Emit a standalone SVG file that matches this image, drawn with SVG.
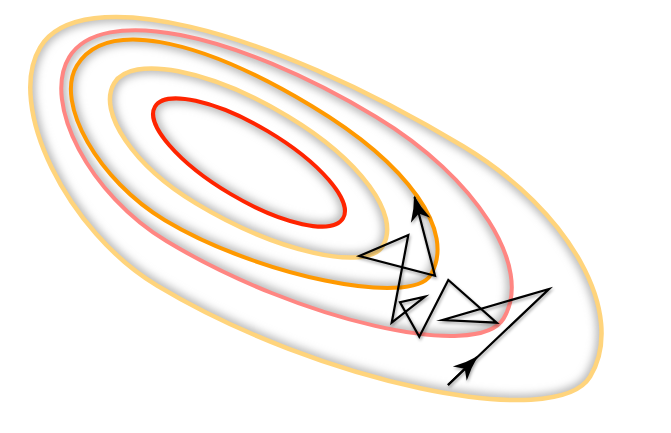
<svg xmlns="http://www.w3.org/2000/svg" xmlns:xlink="http://www.w3.org/1999/xlink" width="671" height="433" viewBox="0 0 671 433">
<style>
.sh{fill:none;stroke:#b4b4b4;stroke-width:10;filter:url(#blur)}
.c{fill:none}
.y{stroke:#FFD47C;stroke-width:4.5}
.p{stroke:#FF8682;stroke-width:4}
.o{stroke:#FF9900;stroke-width:4}
.r{stroke:#FF2400;stroke-width:4}
.trail{fill:none;stroke:#000;stroke-width:2.2;stroke-linejoin:miter;stroke-miterlimit:10}
</style>
<defs>
<filter id="blur" x="-20%" y="-20%" width="140%" height="140%"><feGaussianBlur stdDeviation="4.5"/></filter>
<filter id="ds" x="-10%" y="-10%" width="120%" height="120%"><feDropShadow dx="1" dy="2" stdDeviation="1.5" flood-color="#000" flood-opacity="0.35"/></filter>
<path id="eY1" transform="translate(315.9 210.7) rotate(31)" d="M-320.5,2 C-320.5,-73.8 -142.9,-131 92.5,-131 C217.9,-131 320.5,-71.6 320.5,1 C320.5,66.3 90.6,146 -97.5,146 C-202.3,146 -320.5,69.7 -320.5,2 Z"/>
<path id="eP" transform="translate(286.4 187.8) rotate(31)" d="M-253.5,0 C-253.5,-61 -127.3,-107 40,-107 C157.4,-107 253.5,-58.9 253.5,0 C253.5,50.5 79.4,107.5 -75,107.5 C-164.3,107.5 -253.5,53.8 -253.5,0 Z"/>
<path id="eO" transform="translate(252.5 171.4) rotate(31)" d="M-205,0 C-205,-53.6 -120.6,-86.5 17,-86.5 C130.4,-86.5 206,-53.1 206,-3 C206,34.8 57.5,87 -50,87 C-127.5,87 -205,43.5 -205,0 Z"/>
<path id="eY2" transform="translate(248.8 164) rotate(31)" d="M-157,0 C-157,-33.6 -82.3,-61 9,-61 C93.4,-61 157,-34.3 157,1 C157,32.2 69.6,61 -25,61 C-97.6,61 -157,33.6 -157,0 Z"/>
<ellipse id="eR" cx="249" cy="162.5" rx="109.4" ry="36.5" transform="rotate(30.7 249 162.5)"/>
<clipPath id="cY1"><use xlink:href="#eY1"/></clipPath>
<clipPath id="cP"><use xlink:href="#eP"/></clipPath>
<clipPath id="cO"><use xlink:href="#eO"/></clipPath>
<clipPath id="cY2"><use xlink:href="#eY2"/></clipPath>
<clipPath id="cR"><use xlink:href="#eR"/></clipPath>
<marker id="ah" markerUnits="userSpaceOnUse" viewBox="-26 -12 28 24" refX="0" refY="0" markerWidth="28" markerHeight="24" orient="auto">
<path d="M1.5,0 Q-12,-3.5 -24,-10 L-17,0 L-24,10 Q-12,3.5 1.5,0 Z" fill="#000"/>
</marker>
</defs>
<rect width="671" height="433" fill="#fff"/>
<g id="contour-outer">
<g clip-path="url(#cY1)"><use xlink:href="#eY1" class="sh"/></g>
<use xlink:href="#eY1" class="c y"/>
</g>
<g id="contour-pink">
<g clip-path="url(#cP)"><use xlink:href="#eP" class="sh"/></g>
<use xlink:href="#eP" class="c p"/>
</g>
<g id="contour-orange">
<g clip-path="url(#cO)"><use xlink:href="#eO" class="sh"/></g>
<use xlink:href="#eO" class="c o"/>
</g>
<g id="contour-inner">
<g clip-path="url(#cY2)"><use xlink:href="#eY2" class="sh"/></g>
<use xlink:href="#eY2" class="c y"/>
</g>
<g id="contour-center">
<g clip-path="url(#cR)"><use xlink:href="#eR" class="sh"/></g>
<use xlink:href="#eR" class="c r"/>
</g>
<g id="connectors" filter="url(#ds)">
<path class="trail" d="M448,385 L549,289 L442.7,320 L496.7,322.7 L448.3,280 L419.3,336.7 L400,302.3 L425,296.7 L391.7,322.7 L408.3,235 L359.3,256 L435,275.7 L414.5,197" marker-end="url(#ah)"/>
<path class="trail" d="M448,385 L477,357" marker-end="url(#ah)"/>
</g>
</svg>
